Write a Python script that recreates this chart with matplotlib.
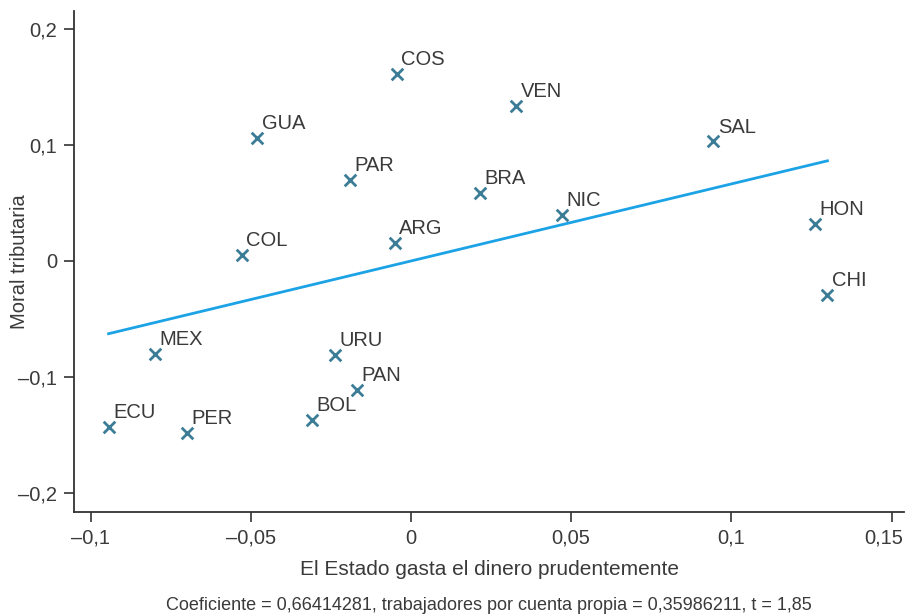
import matplotlib
matplotlib.use("Agg")
import matplotlib.pyplot as plt
import matplotlib.transforms as mtransforms
import numpy as np

countries = ["COS", "VEN", "GUA", "SAL", "PAR", "BRA", "NIC", "HON", "ARG",
             "COL", "CHI", "MEX", "URU", "PAN", "BOL", "ECU", "PER"]
gasto = [-0.0044, 0.0328, -0.048, 0.0944, -0.019, 0.0216, 0.0472, 0.126, -0.005,
         -0.0528, 0.130, -0.080, -0.0238, -0.0169, -0.031, -0.0944, -0.070]
moral = [0.161, 0.134, 0.106, 0.103, 0.070, 0.0586, 0.0397, 0.032, 0.0155,
         0.0052, -0.029, -0.080, -0.081, -0.111, -0.137, -0.143, -0.148]

coef = 0.66414281
intercept = 0.0

xticks = [-0.1, -0.05, 0, 0.05, 0.1, 0.15]
xticklabels = ["–0,1", "–0,05", "0", "0,05", "0,1", "0,15"]
yticks = [-0.2, -0.1, 0, 0.1, 0.2]
yticklabels = ["–0,2", "–0,1", "0", "0,1", "0,2"]

xlabel = "El Estado gasta el dinero prudentemente"
ylabel = "Moral tributaria"
caption = "Coeficiente = 0,66414281, trabajadores por cuenta propia = 0,35986211, t = 1,85"

plt.rcParams['font.family'] = ['Liberation Sans', 'DejaVu Sans']
txt = "#3a3a3a"

fig = plt.figure(figsize=(9.07, 6.16), dpi=100)
ax = fig.add_axes([74/907, 1-512/616, (904-74)/907, (512-11)/616])

x = np.array(gasto)
y = np.array(moral)
xl = np.array([x.min(), x.max()])
ax.plot(xl, coef*xl + intercept, color="#1ba3e6", lw=2.0, zorder=2)
ax.scatter(x, y, marker="x", s=70, color="#3b7c96", linewidths=2.0, zorder=3)
for c, xi, yi in zip(countries, x, y):
    ax.annotate(c, (xi, yi), xytext=(3.2, 3.5), textcoords="offset points",
                ha="left", va="bottom", fontsize=14.5, color=txt)

ax.set_xlim(-0.1052, 0.1539)
ax.set_ylim(-0.2164, 0.2155)
ax.set_xticks(xticks)
ax.set_xticklabels(xticklabels)
ax.set_yticks(yticks)
ax.set_yticklabels(yticklabels)
ax.tick_params(direction="out", length=7, width=1.2, colors="#333333",
               labelsize=14.5, labelcolor=txt, pad=5)
last = ax.get_xticklabels()[-1]
last.set_transform(last.get_transform() +
                   mtransforms.ScaledTranslation(-8/100, 0, fig.dpi_scale_trans))
for s in ["top", "right"]:
    ax.spines[s].set_visible(False)
for s in ["left", "bottom"]:
    ax.spines[s].set_linewidth(1.3)
    ax.spines[s].set_color("#333333")

ax.set_xlabel(xlabel, fontsize=15, color=txt, labelpad=9)
fig.text(20/907, 1-262/616, ylabel, rotation=90, ha="center", va="center",
         fontsize=14.5, color=txt)
fig.text(489/907, 1-606/616, caption, ha="center", va="center", fontsize=13, color=txt)

fig.savefig("out.png", dpi=100)
